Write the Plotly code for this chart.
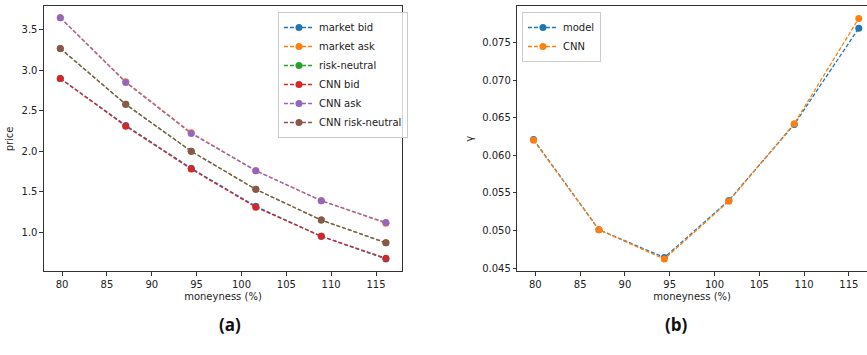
import plotly.graph_objects as go

# Strike moneyness (%) for the six options
moneyness = [79.8, 87.1, 94.4, 101.6, 108.9, 116.1]

# Panel (a): option prices
market_bid = [2.90, 2.32, 1.79, 1.32, 0.95, 0.67]
market_ask = [3.65, 2.86, 2.23, 1.76, 1.39, 1.11]
risk_neutral = [3.27, 2.58, 2.00, 1.53, 1.15, 0.87]
cnn_bid = [2.90, 2.31, 1.78, 1.31, 0.95, 0.68]
cnn_ask = [3.65, 2.85, 2.22, 1.76, 1.39, 1.12]
cnn_risk_neutral = [3.27, 2.58, 2.00, 1.53, 1.15, 0.87]

# Panel (b): gamma
gamma_model = [0.0621, 0.0501, 0.0464, 0.0540, 0.0641, 0.0769]
gamma_cnn = [0.0620, 0.0501, 0.0462, 0.0539, 0.0642, 0.0782]

price_ticks = [1.0, 1.5, 2.0, 2.5, 3.0, 3.5]
gamma_ticks = [0.045, 0.050, 0.055, 0.060, 0.065, 0.070, 0.075]
x_ticks = [80, 85, 90, 95, 100, 105, 110, 115]

C = ["#1f77b4", "#ff7f0e", "#2ca02c", "#d62728", "#9467bd", "#8c564b"]
FONT = "DejaVu Sans"
AXC = "#333333"
DASH = "4px,2px"

fig = go.Figure()

left_series = [
    ("market bid", market_bid),
    ("market ask", market_ask),
    ("risk-neutral", risk_neutral),
    ("CNN bid", cnn_bid),
    ("CNN ask", cnn_ask),
    ("CNN risk-neutral", cnn_risk_neutral),
]
for i, (name, vals) in enumerate(left_series):
    fig.add_trace(go.Scatter(
        x=moneyness, y=vals, name=name, mode="lines+markers",
        line=dict(color=C[i], width=1.3, dash=DASH),
        marker=dict(color=C[i], size=7),
        xaxis="x", yaxis="y", legend="legend",
    ))

for i, (name, vals) in enumerate([("model", gamma_model), ("CNN", gamma_cnn)]):
    fig.add_trace(go.Scatter(
        x=moneyness, y=vals, name=name, mode="lines+markers",
        line=dict(color=C[i], width=1.3, dash=DASH),
        marker=dict(color=C[i], size=7),
        xaxis="x2", yaxis="y2", legend="legend2",
    ))

axis_common = dict(
    showgrid=False, zeroline=False, showline=True, linecolor=AXC, linewidth=1,
    ticks="outside", ticklen=3.5, tickwidth=1, tickcolor=AXC,
    tickfont=dict(family=FONT, size=10, color="#222"),
    title_font=dict(family=FONT, size=10, color="#222"),
)

fig.update_layout(
    width=867, height=355,
    margin=dict(l=0, r=0, t=0, b=0),
    paper_bgcolor="white", plot_bgcolor="white",
    font=dict(family=FONT, size=10, color="#222"),
    xaxis=dict(domain=[0.0507, 0.4637], range=[77.98, 117.9], tickvals=x_ticks,
               mirror=True, anchor="y",
               title=dict(text="moneyness (%)", standoff=4), **axis_common),
    yaxis=dict(domain=[0.231, 0.982], range=[0.516, 3.79], tickvals=price_ticks,
               tickformat=".1f", mirror=True, anchor="x",
               title=dict(text="price", standoff=6), **axis_common),
    xaxis2=dict(domain=[0.5967, 1.0], range=[77.99, 117.02], tickvals=x_ticks,
                mirror=True, anchor="y2",
                title=dict(text="moneyness (%)", standoff=4), **axis_common),
    yaxis2=dict(domain=[0.231, 0.982], range=[0.04455, 0.0798], tickvals=gamma_ticks,
                tickformat=".3f", mirror=False, anchor="x2",
                title=dict(text="γ", standoff=6), **axis_common),
    legend=dict(x=0.3206, y=0.966, xanchor="left", yanchor="top",
                bgcolor="rgba(255,255,255,0.8)", bordercolor="#cccccc", borderwidth=1,
                font=dict(family=FONT, size=10, color="#222"), tracegroupgap=0),
    legend2=dict(x=0.602, y=0.966, xanchor="left", yanchor="top",
                 bgcolor="rgba(255,255,255,0.8)", bordercolor="#cccccc", borderwidth=1,
                 font=dict(family=FONT, size=10, color="#222"), tracegroupgap=0),
    annotations=[
        dict(text="<b>(a)</b>", x=217 / 867, y=1 - 340 / 355, xref="paper", yref="paper",
             showarrow=False, font=dict(family="Open Sans", size=17, color="#111")),
        dict(text="<b>(b)</b>", x=690 / 867, y=1 - 340 / 355, xref="paper", yref="paper",
             showarrow=False, font=dict(family="Open Sans", size=17, color="#111")),
    ],
)

fig.write_html("out.html")
